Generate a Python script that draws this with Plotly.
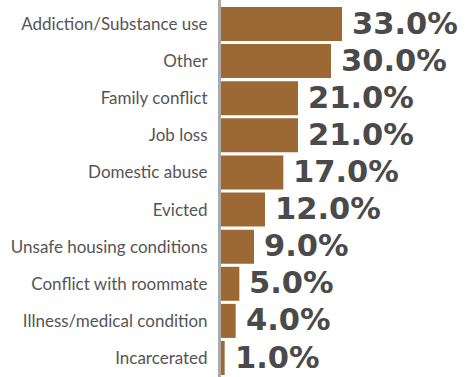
import plotly.graph_objects as go

# Reasons reported, top to bottom
categories = [
    "Addiction/Substance use",
    "Other",
    "Family conflict",
    "Job loss",
    "Domestic abuse",
    "Evicted",
    "Unsafe housing conditions",
    "Conflict with roommate",
    "Illness/medical condition",
    "Incarcerated",
]
values = [33.0, 30.0, 21.0, 21.0, 17.0, 12.0, 9.0, 5.0, 4.0, 1.0]
value_labels = [f"{v:.1f}%" for v in values]

bar_color = "#9C6935"
label_color = "#555555"
value_color = "#4A4A4A"

fig = go.Figure(
    go.Bar(
        x=values,
        y=categories,
        orientation="h",
        marker=dict(color=bar_color, line=dict(width=0)),
        hoverinfo="skip",
    )
)

# Value labels just past the end of each bar
for cat, v, lab in zip(categories, values, value_labels):
    fig.add_annotation(
        x=v, y=cat, text=lab, showarrow=False,
        xanchor="left", yanchor="middle", xshift=8, yshift=1,
        font=dict(family="DejaVu Sans", size=30.5, color=value_color, weight="bold"),
    )

fig.update_layout(
    width=474, height=377,
    margin=dict(l=221, r=0, t=0, b=0),
    paper_bgcolor="white", plot_bgcolor="white",
    bargap=0.084,
    showlegend=False,
    xaxis=dict(range=[0, 69.0], visible=False, fixedrange=True),
    yaxis=dict(
        type="category",
        range=[9.512, -0.647],
        showline=True, linecolor="#AAAAAA", linewidth=3,
        showgrid=False, ticks="", ticklabelstandoff=7,
        tickfont=dict(family="Lato", size=17, color=label_color),
        fixedrange=True,
    ),
)

fig.write_html("out.html")
